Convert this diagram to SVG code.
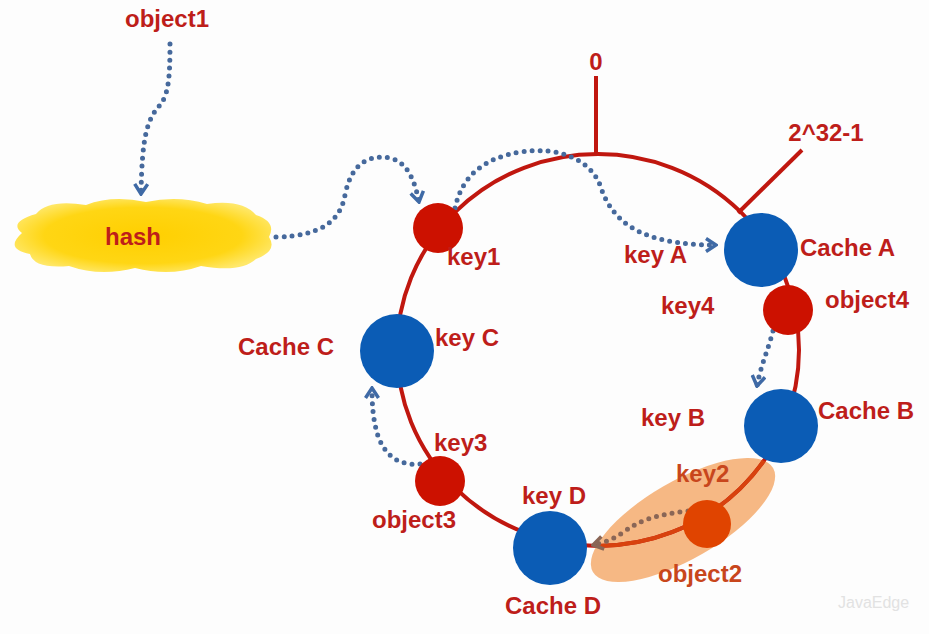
<svg xmlns="http://www.w3.org/2000/svg" width="929" height="634" viewBox="0 0 929 634">
<defs>
<style>
.t{font-family:"Liberation Sans",Arial,sans-serif;font-weight:bold;font-size:24px;fill:#be1e1a}
.to{fill:#c8461c}
.ring{fill:none;stroke:#c0170f;stroke-width:4}
.red{fill:#cc1100}
.blue{fill:#0b5cb5}
.dot{fill:none;stroke:#46699c;stroke-width:5;stroke-linecap:round;stroke-dasharray:0 8}
</style>
<radialGradient id="cg" cx="0.5" cy="0.5" r="0.55">
<stop offset="0" stop-color="#ffcf00"/>
<stop offset="0.7" stop-color="#ffd614"/>
<stop offset="1" stop-color="#ffe86a"/>
</radialGradient>
<clipPath id="hc"><ellipse cx="683" cy="520" rx="104" ry="39" transform="rotate(-30 683 520)"/></clipPath>
<marker id="ah" viewBox="0 0 14 16" refX="12" refY="8" markerWidth="14" markerHeight="16" markerUnits="userSpaceOnUse" orient="auto">
<path d="M2,1.5 L12,8 L2,14.5" fill="none" stroke="#3f6aa6" stroke-width="3.5"/>
</marker>
<marker id="ah2" viewBox="0 0 14 16" refX="12" refY="8" markerWidth="14" markerHeight="16" markerUnits="userSpaceOnUse" orient="auto">
<path d="M2,1.5 L12,8 L2,14.5" fill="none" stroke="#8a6656" stroke-width="3.5"/>
</marker>
</defs>
<rect width="929" height="634" fill="#fdfdfd"/>

<g id="highlight">
<ellipse cx="683" cy="520" rx="104" ry="39" transform="rotate(-30 683 520)" fill="#f4ab6e" fill-opacity="0.85"/>
</g>

<g id="ring">
<ellipse class="ring" cx="598" cy="350" rx="201" ry="196"/>
<ellipse cx="598" cy="350" rx="201" ry="196" fill="none" stroke="#d8420e" stroke-width="4" clip-path="url(#hc)"/>
<line class="ring" x1="596" y1="76" x2="596" y2="155"/>
<line class="ring" x1="738" y1="213" x2="802" y2="150"/>
<text class="t" x="596" y="70" text-anchor="middle">0</text>
<text class="t" x="826" y="141" text-anchor="middle">2^32-1</text>
</g>

<g id="hash">
<path d="M22,233 Q8,222 36,214 Q48,199 86,205 Q112,195 146,202 Q178,195 207,204 Q242,199 256,215 Q277,222 269,237 Q278,251 256,259 Q241,273 201,266 Q170,277 135,268 Q100,277 69,266 Q34,269 30,254 Q4,249 22,233 Z" fill="url(#cg)"/>
<text class="t" x="133" y="245" text-anchor="middle">hash</text>
</g>
<g id="object1"><text class="t" x="167" y="27" text-anchor="middle">object1</text></g>

<g id="connectors">
<path class="dot" d="M170,44 C170,80 168,95 160,105 C146,120 142,140 141,194" marker-end="url(#ah)"/>
<path class="dot" d="M276,237 C320,236 340,222 345,195 C352,160 372,155 390,158 C408,162 415,182 419,202" marker-end="url(#ah)"/>
<path class="dot" d="M455,208 C462,175 485,158 520,152 C560,146 590,160 600,185 C612,222 640,245 716,245" marker-end="url(#ah)"/>
<path class="dot" d="M773,331 C768,350 760,368 757,386" marker-end="url(#ah)"/>
<path class="dot" d="M420,464 C398,466 385,455 378,436 C373,420 372,405 372,388" marker-end="url(#ah)"/>
<path d="M688,511 C655,515 640,520 622,533 C612,540 602,543 593,545" fill="none" stroke="#8a6656" stroke-width="5" stroke-linecap="round" stroke-dasharray="0 8" marker-end="url(#ah2)"/>
</g>

<g id="key1"><circle class="red" cx="438" cy="228" r="25"/><text class="t" x="447" y="265">key1</text></g>
<g id="cacheA"><circle class="blue" cx="761" cy="250" r="37"/><text class="t" x="800" y="256">Cache A</text><text class="t" x="624" y="263">key A</text></g>
<g id="object4"><circle class="red" cx="788" cy="310" r="25"/><text class="t" x="825" y="308">object4</text><text class="t" x="661" y="314">key4</text></g>
<g id="cacheB"><circle class="blue" cx="781" cy="426" r="37"/><text class="t" x="818" y="419">Cache B</text><text class="t" x="641" y="426">key B</text></g>
<g id="object2"><circle cx="707" cy="524" r="24" fill="#e04400"/><text class="t to" x="676" y="482">key2</text><text class="t to" x="658" y="582">object2</text></g>
<g id="cacheD"><circle class="blue" cx="550" cy="548" r="37"/><text class="t" x="522" y="504">key D</text><text class="t" x="505" y="614">Cache D</text></g>
<g id="object3"><circle class="red" cx="440" cy="481" r="25"/><text class="t" x="434" y="451">key3</text><text class="t" x="372" y="528">object3</text></g>
<g id="cacheC"><circle class="blue" cx="397" cy="351" r="37"/><text class="t" x="435" y="346">key C</text><text class="t" x="238" y="355">Cache C</text></g>

<text x="838" y="608" font-family="Liberation Sans,Arial,sans-serif" font-size="16" fill="#e2e2e2">JavaEdge</text>
</svg>
